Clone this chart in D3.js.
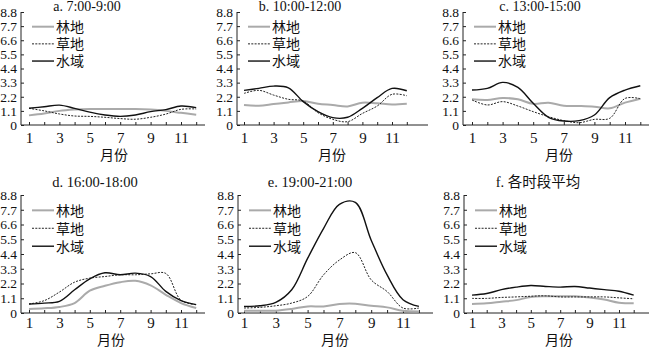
<!DOCTYPE html>
<html>
<head>
<meta charset="utf-8">
<script src="https://cdn.jsdelivr.net/npm/d3@7"></script>
<style>
  html, body { margin: 0; padding: 0; background: #fff; }
  svg { display: block; }
  text { fill: #111; }
</style>
</head>
<body>
<svg id="chart" width="650" height="348"></svg>
<script>
// Months on the x axis and shared y tick values
const months = [1, 2, 3, 4, 5, 6, 7, 8, 9, 10, 11, 12];
const yTicks = [0, 1.1, 2.2, 3.3, 4.4, 5.5, 6.6, 7.7, 8.8];
const seriesNames = ["林地", "草地", "水域"];
const panelTitles = ["a. 7:00-9:00", "b. 10:00-12:00", "c. 13:00-15:00",
                     "d. 16:00-18:00", "e. 19:00-21:00", "f. 各时段平均"];

// a. 7:00-9:00
const forestA = [0.75, 0.9, 1.1, 1.2, 1.25, 1.25, 1.25, 1.25, 1.2, 1.1, 0.95, 0.8];
const grassA  = [1.3, 1.1, 0.86, 0.7, 0.67, 0.6, 0.5, 0.45, 0.6, 0.85, 1.22, 1.25];
const waterA  = [1.3, 1.42, 1.55, 1.3, 1.0, 0.78, 0.67, 0.78, 1.04, 1.2, 1.48, 1.35];
// b. 10:00-12:00
const forestB = [1.56, 1.5, 1.63, 1.76, 1.87, 1.65, 1.56, 1.45, 1.74, 1.69, 1.6, 1.66];
const grassB  = [2.46, 2.7, 2.33, 2.0, 1.87, 0.96, 0.44, 0.26, 0.9, 1.48, 2.39, 2.28];
const waterB  = [2.7, 2.85, 3.03, 2.9, 1.82, 1.04, 0.57, 0.6, 1.3, 2.13, 2.85, 2.67];
// c. 13:00-15:00
const forestC = [2.0, 1.95, 2.1, 2.0, 1.65, 1.74, 1.5, 1.48, 1.43, 1.3, 1.74, 2.05];
const grassC  = [1.95, 1.56, 1.82, 1.48, 1.04, 0.65, 0.34, 0.18, 0.44, 0.52, 2.07, 2.05];
const waterC  = [2.72, 2.85, 3.32, 2.93, 1.69, 0.6, 0.31, 0.34, 0.78, 2.13, 2.72, 3.06];
// d. 16:00-18:00
const forestD = [0.3, 0.35, 0.45, 0.74, 1.66, 2.03, 2.3, 2.4, 2.06, 1.36, 0.74, 0.37];
const grassD  = [0.67, 0.92, 1.56, 2.3, 2.6, 2.72, 2.85, 2.85, 2.92, 2.95, 0.95, 0.62];
const waterD  = [0.67, 0.74, 0.87, 1.73, 2.55, 3.0, 2.85, 2.97, 2.72, 1.61, 0.92, 0.62];
// e. 19:00-21:00
const forestE = [0.17, 0.17, 0.17, 0.3, 0.49, 0.49, 0.67, 0.69, 0.54, 0.42, 0.17, 0.12];
const grassE  = [0.37, 0.42, 0.54, 0.74, 1.23, 2.84, 3.95, 4.5, 2.47, 1.6, 0.37, 0.37];
const waterE  = [0.49, 0.54, 0.79, 1.73, 4.07, 6.3, 8.1, 8.25, 5.43, 2.84, 0.99, 0.49];
// f. 各时段平均
const forestF = [0.68, 0.72, 0.84, 0.96, 1.2, 1.25, 1.25, 1.25, 1.16, 1.01, 0.77, 0.72];
const grassF  = [1.09, 1.09, 1.16, 1.2, 1.25, 1.28, 1.2, 1.2, 1.2, 1.2, 1.13, 1.06];
const waterF  = [1.33, 1.45, 1.74, 1.93, 2.05, 1.98, 1.93, 1.98, 1.86, 1.74, 1.62, 1.33];

const panelSeries = [
  [forestA, grassA, waterA],
  [forestB, grassB, waterB],
  [forestC, grassC, waterC],
  [forestD, grassD, waterD],
  [forestE, grassE, waterE],
  [forestF, grassF, waterF]
];

// Panel frames: axis x, right end, month-1 and month-11 positions, y of 8.8 and 0
const frames = [
  { ax: 21,  right: 205, x1: 29,  x11: 181, top: 12,  bottom: 125, titleX: 87,  labelX: 114, labelY: 160, titleY: 11,  pad: 7 },
  { ax: 237, right: 428, x1: 244, x11: 392, top: 12,  bottom: 125, titleX: 300, labelX: 332, labelY: 160, titleY: 11,  pad: 7 },
  { ax: 463, right: 649, x1: 472, x11: 625, top: 12,  bottom: 125, titleX: 540, labelX: 559, labelY: 160, titleY: 11,  pad: 7 },
  { ax: 21,  right: 205, x1: 29,  x11: 181, top: 195, bottom: 313, titleX: 95,  labelX: 111, labelY: 344.5, titleY: 187, pad: 4 },
  { ax: 238, right: 433, x1: 244, x11: 403, top: 195, bottom: 313, titleX: 310, labelX: 335, labelY: 344.5, titleY: 187, pad: 4 },
  { ax: 464, right: 649, x1: 472, x11: 619, top: 195, bottom: 313, titleX: 538, labelX: 559, labelY: 344.5, titleY: 187, pad: 4 }
];

const styles = [
  { stroke: "#aaaaaa", width: 2.0, dash: null },
  { stroke: "#222222", width: 1.0, dash: "2,1.3" },
  { stroke: "#111111", width: 1.4, dash: null }
];

const serif = "'Liberation Serif', 'Times New Roman', serif";
// Latin serif first so digits match the axes; CJK glyphs fall back to Noto
const mixed = "'Liberation Serif', 'Noto Sans CJK SC', serif";

const svg = d3.select("#chart");

frames.forEach((f, i) => {
  const g = svg.append("g");
  const x = d3.scaleLinear().domain([1, 11]).range([f.x1, f.x11]);
  const y = d3.scaleLinear().domain([0, 8.8]).range([f.bottom, f.top]);

  // Y axis with inward ticks
  const yAxis = g.append("g")
    .attr("transform", `translate(${f.ax},0)`)
    .call(d3.axisLeft(y).tickValues(yTicks).tickSize(-3).tickPadding(4)
      .tickFormat(d => d === 0 ? "0" : d3.format(".1f")(d)));
  yAxis.select(".domain").attr("d", `M0,${f.top}V${f.bottom}`).attr("stroke", "#222");
  yAxis.selectAll(".tick line").attr("stroke", "#222");
  yAxis.selectAll(".tick text").attr("font-family", serif).attr("font-size", 13.5).attr("fill", "#111");

  // X axis: ticks at every month, labels on odd months
  const xAxis = g.append("g")
    .attr("transform", `translate(0,${f.bottom})`)
    .call(d3.axisBottom(x).tickValues(months).tickSize(-3).tickPadding(f.pad)
      .tickFormat(d => d % 2 === 1 ? String(d) : ""));
  xAxis.select(".domain").attr("d", `M${f.ax},0H${f.right}`).attr("stroke", "#222");
  xAxis.selectAll(".tick line").attr("stroke", "#222");
  xAxis.selectAll(".tick text").attr("font-family", serif).attr("font-size", 15).attr("fill", "#111");

  // Title
  g.append("text")
    .attr("x", f.titleX).attr("y", f.titleY)
    .attr("text-anchor", "middle")
    .style("font-family", mixed)
    .attr("font-size", i < 3 ? 14 : 14.5)
    .text(panelTitles[i]);

  // X axis name
  g.append("text")
    .attr("x", f.labelX).attr("y", f.labelY)
    .attr("text-anchor", "middle")
    .style("font-family", mixed).attr("font-size", 14)
    .text("月份");

  // Series lines
  const line = d3.line()
    .x((d, k) => x(months[k]))
    .y(d => y(d))
    .curve(d3.curveCatmullRom.alpha(0.5));
  panelSeries[i].forEach((vals, s) => {
    g.append("path")
      .datum(vals)
      .attr("fill", "none")
      .attr("stroke", styles[s].stroke)
      .attr("stroke-width", styles[s].width)
      .attr("stroke-dasharray", styles[s].dash)
      .attr("d", line);
  });

  // Legend
  const h = f.bottom - f.top;
  const ly0 = f.top + h * 0.13;
  const step = h * 0.152;
  seriesNames.forEach((name, s) => {
    const ly = ly0 + s * step;
    g.append("line")
      .attr("x1", f.ax + 11).attr("x2", f.ax + 33)
      .attr("y1", ly).attr("y2", ly)
      .attr("stroke", styles[s].stroke)
      .attr("stroke-width", styles[s].width)
      .attr("stroke-dasharray", styles[s].dash);
    g.append("text")
      .attr("x", f.ax + 35).attr("y", ly)
      .attr("dy", "0.38em")
      .style("font-family", mixed).attr("font-size", 14)
      .text(name);
  });
});
</script>
</body>
</html>
